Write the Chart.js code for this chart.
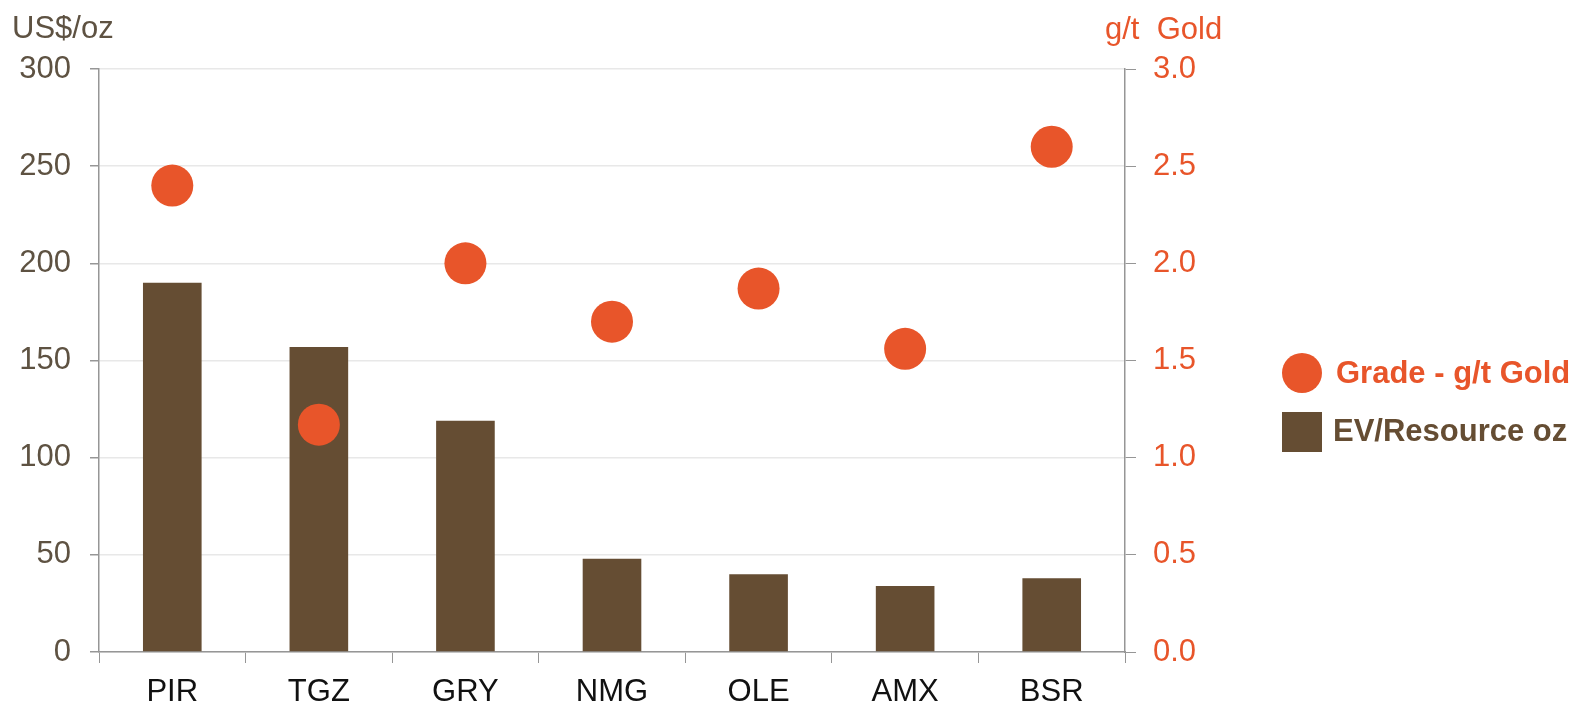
<!DOCTYPE html>
<html>
<head>
<meta charset="utf-8">
<script src="https://cdn.jsdelivr.net/npm/chart.js@4/dist/chart.umd.min.js"></script>
<style>
  html, body { margin: 0; padding: 0; background: #fff; }
  #wrap { width: 1582px; height: 707px; }
</style>
</head>
<body>
<div id="wrap"><canvas id="chart" width="1582" height="707"></canvas></div>
<script>
// Colours
const brown = "rgb(101,77,51)";
const orange = "rgb(232,85,42)";
const tickGray = "rgb(94,82,66)";
const axisGray = "rgb(150,150,150)";
const gridGray = "rgb(232,232,232)";

// Data
const companies = ["PIR", "TGZ", "GRY", "NMG", "OLE", "AMX", "BSR"];
const evPerOz = [190, 157, 119, 48, 40, 34, 38];
const gradeGold = [2.40, 1.17, 2.00, 1.70, 1.87, 1.56, 2.60];
const leftTicks = [0, 50, 100, 150, 200, 250, 300];
const rightTicks = [0.0, 0.5, 1.0, 1.5, 2.0, 2.5, 3.0];

const FONT = "'Liberation Sans', Arial, sans-serif";

// Axis titles above the plot and the legend on the right
const extras = {
  id: "extras",
  afterDraw(chart) {
    const { ctx } = chart;
    ctx.save();
    ctx.textBaseline = "middle";
    ctx.textAlign = "left";
    ctx.font = "31px " + FONT;
    ctx.fillStyle = tickGray;
    ctx.fillText("US$/oz", 12, 29);
    ctx.fillStyle = orange;
    ctx.fillText("g/t  Gold", 1105, 30);

    // Legend
    const ds = chart.data.datasets;
    ctx.font = "bold 31px " + FONT;
    ctx.beginPath();
    ctx.fillStyle = ds[0].backgroundColor;
    ctx.arc(1302, 373, 20, 0, Math.PI * 2);
    ctx.fill();
    ctx.fillText(ds[0].label, 1336, 374);
    ctx.fillStyle = ds[1].backgroundColor;
    ctx.fillRect(1282, 412, 40, 40);
    ctx.fillText(ds[1].label, 1333, 432);
    ctx.restore();
  },
};

const config = {
  type: "bar",
  data: {
    labels: companies,
    datasets: [
      {
        type: "line",
        label: "Grade - g/t Gold",
        data: gradeGold,
        yAxisID: "y1",
        showLine: false,
        pointRadius: 21,
        pointHoverRadius: 21,
        pointBackgroundColor: orange,
        pointBorderWidth: 0,
        backgroundColor: orange,
        order: 0,
      },
      {
        type: "bar",
        label: "EV/Resource oz",
        data: evPerOz,
        yAxisID: "y",
        backgroundColor: brown,
        categoryPercentage: 1,
        barPercentage: 0.4,
        order: 1,
      },
    ],
  },
  options: {
    responsive: false,
    animation: false,
    layout: { padding: { top: 69, left: 0, right: 377, bottom: 0 } },
    plugins: {
      legend: { display: false },
      tooltip: { enabled: false },
    },
    scales: {
      x: {
        offset: true,
        grid: {
          display: true,
          offset: true,
          drawOnChartArea: false,
          drawTicks: true,
          tickLength: 11,
          tickColor: axisGray,
          color: axisGray,
        },
        border: { display: true, color: axisGray, width: 1.5 },
        ticks: { color: "#111", font: { family: FONT, size: 31 }, padding: 11 },
        afterFit(scale) { scale.height = 55; },
      },
      y: {
        position: "left",
        min: 0,
        max: 300,
        afterBuildTicks(scale) { scale.ticks = leftTicks.map((v) => ({ value: v })); },
        grid: { color: gridGray, tickColor: axisGray, tickLength: 9, lineWidth: 1.5 },
        border: { display: true, color: axisGray, width: 1.5 },
        ticks: { color: tickGray, font: { family: FONT, size: 31 }, padding: 19 },
        afterFit(scale) { scale.width = 99; },
      },
      y1: {
        position: "right",
        min: 0,
        max: 3,
        afterBuildTicks(scale) { scale.ticks = rightTicks.map((v) => ({ value: v })); },
        grid: { drawOnChartArea: false, tickColor: axisGray, tickLength: 11 },
        border: { display: true, color: axisGray, width: 1.5 },
        ticks: {
          color: orange,
          font: { family: FONT, size: 31 },
          padding: 17,
          callback: (v) => Number(v).toFixed(1),
        },
        afterFit(scale) { scale.width = 80; },
      },
    },
  },
  plugins: [extras],
};

const ctx = document.getElementById("chart").getContext("2d");
const myChart = new Chart(ctx, config);
</script>
</body>
</html>
